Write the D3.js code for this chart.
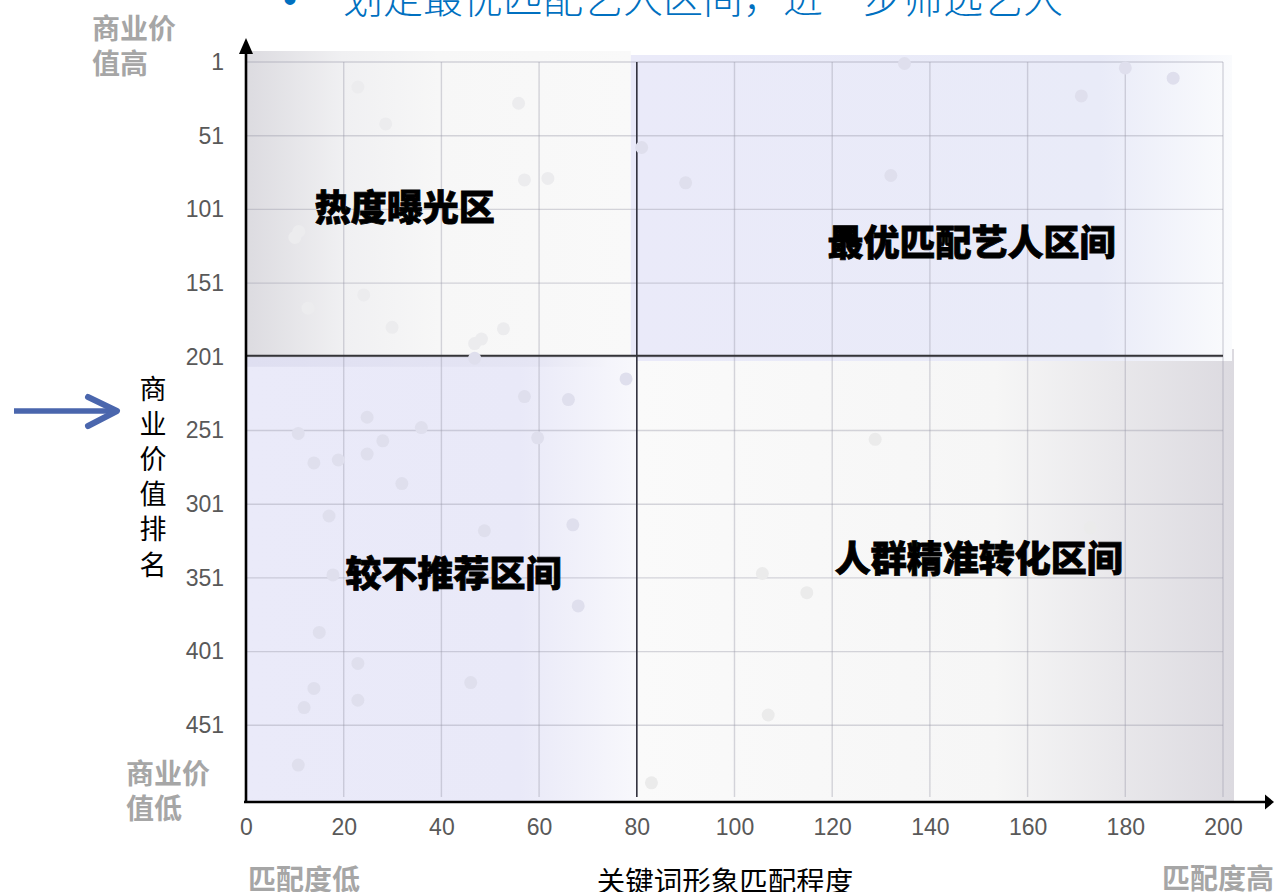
<!DOCTYPE html>
<html>
<head>
<meta charset="utf-8">
<script src="https://cdn.jsdelivr.net/npm/d3@7"></script>
<style>
  body { margin: 0; background: #fff; }
  svg { display: block; }
</style>
</head>
<body>
<svg id="chart"></svg>
<script>
// Data
const matchScores = [
  22.9, 28.6, 55.8, 57, 61.8, 10.8, 10, 24.1, 12.7, 29.9, 46.8, 48.2, 52.7, 46.8,
  81, 134.8, 180, 189.8, 171, 90, 132,
  77.8, 57, 66, 24.8, 10.7, 35.9, 28, 59.7, 13.9, 18.9, 24.8, 31.9, 17, 48.8, 66.9,
  17.8, 68, 15, 22.9, 46, 13.9, 11.9, 22.9, 10.7,
  128.8, 172.8, 105.7, 114.8, 106.9, 83
];
const rankValues = [
  18, 43, 29, 81, 80, 116, 120, 159, 168, 181, 192, 189, 182, 202,
  59, 2, 5, 12, 24, 83, 78,
  216, 228, 230, 242, 253, 249, 258, 256, 273, 271, 267, 287, 309, 319, 315,
  349, 370, 388, 409, 422, 426, 439, 434, 478,
  257, 317, 348, 361, 444, 490
];
const xTicks = [0, 20, 40, 60, 80, 100, 120, 140, 160, 180, 200];
const yTicks = [1, 51, 101, 151, 201, 251, 301, 351, 401, 451];
const quadrantNames = ['热度曝光区', '最优匹配艺人区间', '较不推荐区间', '人群精准转化区间'];
const matchSplit = 80;
const rankSplit = 201;

const width = 1274;
const height = 892;
const svg = d3.select('#chart').attr('width', width).attr('height', height);

const x = d3.scaleLinear().domain([0, 200]).range([246, 1223]);
const y = d3.scaleLinear().domain([1, 501]).range([62, 799]);

const cjk = '"Noto Sans CJK SC", "Noto Sans", sans-serif';
const latin = '"Liberation Sans", Arial, sans-serif';

// Gradients for the four quadrant panels
const defs = svg.append('defs');
function gradient(id, stops) {
  const g = defs.append('linearGradient').attr('id', id)
    .attr('x1', '0%').attr('x2', '100%').attr('y1', '0%').attr('y2', '0%');
  stops.forEach(s => g.append('stop').attr('offset', s[0]).attr('stop-color', s[1]));
}
gradient('gTL', [['0%', '#dcdbe0'], ['25%', '#f0f0f2'], ['50%', '#f7f7f7'], ['100%', '#f9f9f9']]);
gradient('gTR', [['0%', '#eaeaf9'], ['78%', '#e9ebf8'], ['100%', '#fafbfd']]);
gradient('gBL', [['0%', '#eaeaf9'], ['70%', '#e9e9f8'], ['100%', '#f8f8fc']]);
gradient('gBR', [['0%', '#fafafa'], ['60%', '#f6f6f6'], ['100%', '#dcdae0']]);
gradient('gStrip', [['0%', '#dcdcef'], ['80%', '#e4e4f3'], ['100%', '#f4f4fa']]);

const panels = svg.append('g');
panels.append('rect').attr('x', x(0)).attr('y', 51)
  .attr('width', x(matchSplit) - 6 - x(0)).attr('height', y(rankSplit) - 51)
  .attr('fill', 'url(#gTL)');
panels.append('rect').attr('x', x(matchSplit)).attr('y', 349)
  .attr('width', x(200) + 11 - x(matchSplit)).attr('height', 802 - 349)
  .attr('fill', 'url(#gBR)');
panels.append('rect').attr('x', x(matchSplit) - 6).attr('y', 55)
  .attr('width', x(200) + 9 - x(matchSplit) + 6).attr('height', 361 - 55)
  .attr('fill', 'url(#gTR)');
panels.append('rect').attr('x', x(0)).attr('y', y(rankSplit))
  .attr('width', x(matchSplit) - x(0)).attr('height', 801 - y(rankSplit))
  .attr('fill', 'url(#gBL)');
panels.append('rect').attr('x', x(0)).attr('y', y(rankSplit) + 1)
  .attr('width', x(matchSplit) - 30 - x(0)).attr('height', 9)
  .attr('fill', 'url(#gStrip)').attr('opacity', 0.8);

// Gridlines
const grid = svg.append('g');
grid.selectAll('line.h').data(yTicks).enter().append('line')
  .attr('x1', x(0)).attr('x2', x(200))
  .attr('y1', d => y(d)).attr('y2', d => y(d))
  .attr('stroke', 'rgba(150,150,165,0.38)').attr('stroke-width', 1.4);
grid.selectAll('line.v').data(xTicks.slice(1)).enter().append('line')
  .attr('x1', d => x(d)).attr('x2', d => x(d))
  .attr('y1', y(1)).attr('y2', y(501) - 2)
  .attr('stroke', 'rgba(150,150,165,0.38)').attr('stroke-width', 1.4);

// Quadrant dividers
svg.append('line')
  .attr('x1', x(matchSplit)).attr('x2', x(matchSplit))
  .attr('y1', y(1)).attr('y2', y(501) - 2)
  .attr('stroke', '#343440').attr('stroke-width', 1.6);
svg.append('line')
  .attr('x1', x(0)).attr('x2', x(200))
  .attr('y1', y(rankSplit) - 1).attr('y2', y(rankSplit) - 1)
  .attr('stroke', '#343438').attr('stroke-width', 2);

// Points
const points = matchScores.map((v, i) => ({ score: v, rank: rankValues[i] }));
function pointFill(d) {
  const top = d.rank < rankSplit;
  const left = d.score < matchSplit;
  if (top && left) return '#ececee';
  if (!top && !left) return '#ebebeb';
  return '#dfdfed';
}
svg.append('g').selectAll('circle')
  .data(points)
  .enter()
  .append('circle')
  .attr('cx', d => x(d.score))
  .attr('cy', d => y(d.rank))
  .attr('r', 6.5)
  .attr('fill', pointFill);

// Tick labels
const xAxis = svg.append('g')
  .attr('transform', 'translate(0,802)')
  .call(d3.axisBottom(x).tickValues(xTicks).tickSize(0).tickPadding(17));
const yAxis = svg.append('g')
  .attr('transform', `translate(${x(0)},0)`)
  .call(d3.axisLeft(y).tickValues(yTicks).tickSize(0).tickPadding(22));
[xAxis, yAxis].forEach(a => {
  a.select('.domain').remove();
  a.selectAll('text')
    .attr('fill', '#595959')
    .style('font-family', latin)
    .style('font-size', '23px');
});

// Axis arrows
svg.append('line').attr('x1', x(0)).attr('x2', x(0)).attr('y1', 803).attr('y2', 52)
  .attr('stroke', '#000').attr('stroke-width', 2.6);
svg.append('path').attr('d', `M${x(0) - 7},54 L${x(0) + 7},54 L${x(0)},38 Z`).attr('fill', '#000');
svg.append('line').attr('x1', 244).attr('x2', 1267).attr('y1', 802).attr('y2', 802)
  .attr('stroke', '#000').attr('stroke-width', 2.6);
svg.append('path').attr('d', 'M1265,794.5 L1265,809.5 L1274,802 Z').attr('fill', '#000');

// Quadrant labels
const labelSpots = [[32.5, 98], [148.5, 122], [42.5, 346], [150, 336]];
svg.append('g').selectAll('text')
  .data(quadrantNames)
  .enter()
  .append('text')
  .attr('x', (d, i) => x(labelSpots[i][0]))
  .attr('y', (d, i) => y(labelSpots[i][1]))
  .attr('text-anchor', 'middle')
  .attr('dominant-baseline', 'central')
  .style('font-family', cjk)
  .style('font-weight', 900)
  .style('font-size', '36px')
  .attr('fill', '#000')
  .attr('stroke', '#000')
  .attr('stroke-width', 0.8)
  .text(d => d);

// Axis titles
svg.append('text')
  .attr('x', 725).attr('y', 879)
  .attr('text-anchor', 'middle').attr('dominant-baseline', 'central')
  .style('font-family', cjk).style('font-size', '28.5px')
  .attr('fill', '#000')
  .text('关键词形象匹配程度');

const yTitle = '商业价值排名'.split('');
svg.append('g').selectAll('text')
  .data(yTitle)
  .enter()
  .append('text')
  .attr('x', 153)
  .attr('y', (d, i) => 387 + i * 35.2)
  .attr('text-anchor', 'middle').attr('dominant-baseline', 'central')
  .style('font-family', cjk).style('font-size', '27px')
  .attr('fill', '#000')
  .text(d => d);

// Corner hints
const hints = [
  { lines: ['商业价', '值高'], x: 92, y: 27, anchor: 'start' },
  { lines: ['商业价', '值低'], x: 126, y: 772, anchor: 'start' },
  { lines: ['匹配度低'], x: 248, y: 878, anchor: 'start' },
  { lines: ['匹配度高'], x: 1274, y: 877, anchor: 'end' }
];
hints.forEach(h => {
  h.lines.forEach((t, i) => {
    svg.append('text')
      .attr('x', h.x).attr('y', h.y + i * 34.5)
      .attr('text-anchor', h.anchor).attr('dominant-baseline', 'central')
      .style('font-family', cjk).style('font-weight', 700).style('font-size', '28px')
      .attr('fill', '#a6a6a6')
      .text(t);
  });
});

// Blue pointer arrow
svg.append('line').attr('x1', 14).attr('x2', 114).attr('y1', 411).attr('y2', 411)
  .attr('stroke', '#4a66ad').attr('stroke-width', 5.5);
svg.append('path').attr('d', 'M88,397 L117,411 L88,426')
  .attr('fill', 'none').attr('stroke', '#4a66ad').attr('stroke-width', 6)
  .attr('stroke-linecap', 'round').attr('stroke-linejoin', 'round');

// Slide heading, cut off at the top
svg.append('text')
  .attr('x', 290).attr('y', 13)
  .attr('text-anchor', 'middle')
  .style('font-family', latin).style('font-size', '40px')
  .attr('fill', '#0070c0')
  .text('•');
svg.append('text')
  .attr('x', 343).attr('y', 13)
  .style('font-family', cjk).style('font-weight', 300).style('font-size', '40px')
  .attr('fill', '#0070c0')
  .text('划定最优匹配艺人区间，进一步筛选艺人');
</script>
</body>
</html>
